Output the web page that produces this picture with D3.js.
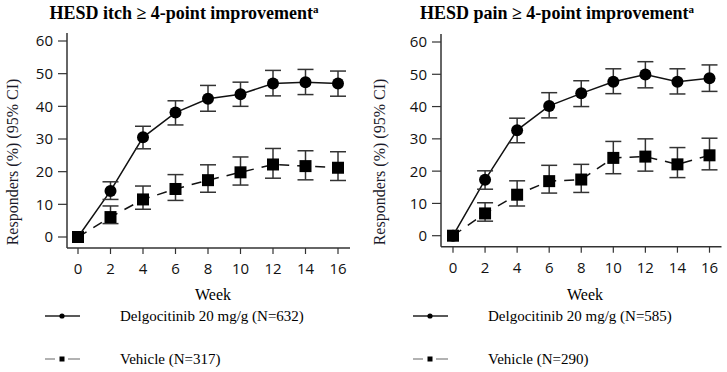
<!DOCTYPE html>
<html><head><meta charset="utf-8">
<script src="https://cdn.jsdelivr.net/npm/d3@7"></script>
<style>body{margin:0;background:#fff}svg{display:block}</style>
</head><body><svg id="c" width="727" height="372"></svg>
<script>
const weeks = [0,2,4,6,8,10,12,14,16];
const yTicks = [0,10,20,30,40,50,60];

const itchDelgo   = [0,14.1,30.5,38.1,42.3,43.7,47.0,47.4,47.0];
const itchDelgoLo = [0,11.5,27.0,34.3,38.5,40.0,43.2,43.6,43.1];
const itchDelgoHi = [0,16.9,33.9,41.7,46.4,47.4,51.0,51.3,50.8];
const itchVeh     = [0,6.1,11.5,14.7,17.4,19.8,22.2,21.7,21.2];
const itchVehLo   = [0,4.1,8.5,11.2,13.7,15.9,18.0,17.5,17.3];
const itchVehHi   = [0,9.5,15.6,19.1,22.1,24.5,27.1,26.4,26.1];

const painDelgo   = [0,17.3,32.7,40.2,44.1,47.7,49.9,47.7,48.8];
const painDelgoLo = [0,14.4,28.8,36.5,40.0,44.0,45.8,43.9,44.7];
const painDelgoHi = [0,20.1,36.4,44.3,48.0,51.7,53.9,51.7,52.9];
const painVeh     = [0,6.9,12.7,16.9,17.4,24.1,24.5,22.1,24.9];
const painVehLo   = [0,4.5,9.2,13.2,13.4,19.2,20.0,18.0,20.4];
const painVehHi   = [0,10.2,17.0,21.8,22.1,29.2,30.0,27.3,30.2];

const titles = ["HESD itch \u2265 4-point improvement", "HESD pain \u2265 4-point improvement"];
const delgoLabels = ["Delgocitinib 20 mg/g (N=632)", "Delgocitinib 20 mg/g (N=585)"];
const vehLabels = ["Vehicle (N=317)", "Vehicle (N=290)"];
const yLabel = "Responders (%) (95% CI)";
const xLabel = "Week";

const svg = d3.select("#c");
const AX = "#333";

function panel(p) {
  const g = svg.append("g");
  const x = d3.scaleLinear().domain([0,16]).range([p.x0, p.x16]);
  const y = d3.scaleLinear().domain([0,60]).range([p.y0, p.y60]);

  const t = g.append("text").attr("x", p.tx).attr("y", 19).attr("text-anchor","middle")
    .style("font-family","'Liberation Serif'").style("font-weight","bold").style("font-size","18px");
  t.append("tspan").text(p.title);
  t.append("tspan").text("a").attr("dy",-6).style("font-size","11px");

  g.append("line").attr("x1",p.axX).attr("x2",p.axX).attr("y1",p.axTop).attr("y2",p.axBot)
    .attr("stroke",AX).attr("stroke-width",1.5);
  g.append("line").attr("x1",p.axX).attr("x2",p.axRight).attr("y1",p.axBot).attr("y2",p.axBot)
    .attr("stroke",AX).attr("stroke-width",1.5);

  yTicks.forEach(v => {
    g.append("line").attr("x1",p.axX-9).attr("x2",p.axX).attr("y1",y(v)).attr("y2",y(v))
      .attr("stroke",AX).attr("stroke-width",1.2);
    g.append("text").attr("x",p.axX-14).attr("y",y(v)).attr("dy","0.36em").attr("text-anchor","end")
      .style("font-family","'Open Sans'").style("font-size","15px").style("fill","#111").text(v);
  });
  weeks.forEach(v => {
    g.append("line").attr("x1",x(v)).attr("x2",x(v)).attr("y1",p.axBot).attr("y2",p.axBot+6)
      .attr("stroke",AX).attr("stroke-width",1.2);
    g.append("text").attr("x",x(v)).attr("y",p.axBot+26).attr("text-anchor","middle")
      .style("font-family","'Open Sans'").style("font-size","15px").style("fill","#111").text(v);
  });

  g.append("text").attr("transform",`translate(${p.ylx},162) rotate(-90)`).attr("text-anchor","middle")
    .style("font-family","'Liberation Serif'").style("font-size","16px").style("fill","#1a1a2a").text(yLabel);
  g.append("text").attr("x",p.wx).attr("y",300).attr("text-anchor","middle")
    .style("font-family","'Liberation Serif'").style("font-size","16px").text(xLabel);

  const line = d3.line().x((d,i)=>x(weeks[i])).y(d=>y(d));

  function series(vals, lo, hi, dashed, shape) {
    g.append("path").attr("d", line(vals)).attr("fill","none").attr("stroke","#111")
      .attr("stroke-width",1.5).attr("stroke-dasharray", dashed ? "10,8" : null);
    weeks.forEach((w,i) => {
      if (hi[i] - lo[i] < 0.5) return;
      const cx = x(w);
      g.append("line").attr("x1",cx).attr("x2",cx).attr("y1",y(lo[i])).attr("y2",y(hi[i]))
        .attr("stroke",AX).attr("stroke-width",1.5);
      [lo[i],hi[i]].forEach(v => g.append("line").attr("x1",cx-8).attr("x2",cx+8)
        .attr("y1",y(v)).attr("y2",y(v)).attr("stroke",AX).attr("stroke-width",1.5));
    });
    weeks.forEach((w,i) => {
      if (shape === "circle") {
        g.append("circle").attr("cx",x(w)).attr("cy",y(vals[i])).attr("r",6).attr("fill","#000");
      } else {
        g.append("rect").attr("x",x(w)-6).attr("y",y(vals[i])-6).attr("width",12).attr("height",12).attr("fill","#000");
      }
    });
  }
  series(p.veh, p.vehLo, p.vehHi, true, "square");
  series(p.delgo, p.delgoLo, p.delgoHi, false, "circle");

  const lg = svg.append("g");
  const r1 = 316, r2 = 359;
  lg.append("line").attr("x1",p.lgx).attr("x2",p.lgx+35).attr("y1",r1).attr("y2",r1)
    .attr("stroke","#222").attr("stroke-width",1.5);
  lg.append("circle").attr("cx",p.lgx+17).attr("cy",r1).attr("r",2.6).attr("fill","#000");
  lg.append("text").attr("x",p.lgx+75).attr("y",r1).attr("dy","0.35em")
    .style("font-family","'Liberation Serif'").style("font-size","15px").text(p.delgoLabel);
  [[0,10],[23,35]].forEach(s => lg.append("line").attr("x1",p.lgx+s[0]).attr("x2",p.lgx+s[1])
    .attr("y1",r2).attr("y2",r2).attr("stroke","#999").attr("stroke-width",1.5));
  lg.append("rect").attr("x",p.lgx+14.5).attr("y",r2-2.5).attr("width",5).attr("height",5).attr("fill","#000");
  lg.append("text").attr("x",p.lgx+75).attr("y",r2).attr("dy","0.35em")
    .style("font-family","'Liberation Serif'").style("font-size","15px").text(p.vehLabel);
}

panel({title:titles[0], tx:184, x0:78, x16:338, y0:237, y60:41, axX:67, axTop:33, axBot:248, axRight:350, ylx:18, wx:213,
  delgo:itchDelgo, delgoLo:itchDelgoLo, delgoHi:itchDelgoHi, veh:itchVeh, vehLo:itchVehLo, vehHi:itchVehHi,
  lgx:45, delgoLabel:delgoLabels[0], vehLabel:vehLabels[0]});
panel({title:titles[1], tx:557, x0:453, x16:709.5, y0:235.7, y60:42, axX:441, axTop:34, axBot:246.7, axRight:721.5, ylx:385, wx:585,
  delgo:painDelgo, delgoLo:painDelgoLo, delgoHi:painDelgoHi, veh:painVeh, vehLo:painVehLo, vehHi:painVehHi,
  lgx:413, delgoLabel:delgoLabels[1], vehLabel:vehLabels[1]});
</script></body></html>
